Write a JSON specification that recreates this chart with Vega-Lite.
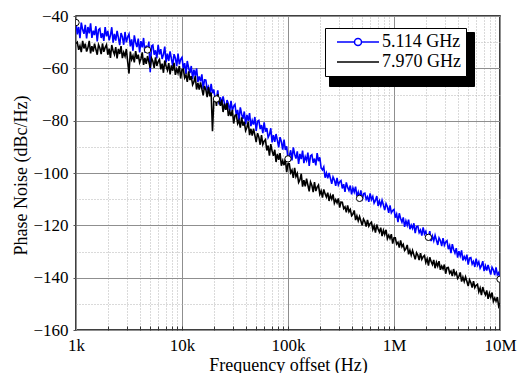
{
  "$schema": "https://vega.github.io/schema/vega-lite/v6.json",
  "width": 424,
  "height": 314,
  "autosize": "none",
  "padding": {"left": 76, "top": 16, "right": 24, "bottom": 43},
  "background": "white",
  "config": {
    "font": "Liberation Serif",
    "view": {"stroke": "black", "strokeWidth": 1.5},
    "axis": {
      "labelFont": "Liberation Serif",
      "titleFont": "Liberation Serif",
      "labelFontSize": 17,
      "titleFontSize": 18,
      "labelColor": "black",
      "titleColor": "black",
      "titleFontWeight": "normal",
      "domain": false,
      "labelFlush": false,
      "labelOverlap": false
    }
  },
  "datasets": {
    "pn": [
      {"f":1000,"b":-42.5,"k":-50.5},{"f":1029,"b":-47.0,"k":-50.0},{"f":1059,"b":-44.2,"k":-52.9},{"f":1090,"b":-48.5,"k":-51.4},
      {"f":1122,"b":-42.5,"k":-53.8},{"f":1155,"b":-45.2,"k":-49.5},{"f":1189,"b":-46.8,"k":-52.4},{"f":1223,"b":-43.4,"k":-50.6},
      {"f":1259,"b":-48.6,"k":-53.6},{"f":1296,"b":-44.2,"k":-52.1},{"f":1334,"b":-46.6,"k":-49.5},{"f":1373,"b":-42.8,"k":-54.3},
      {"f":1413,"b":-48.4,"k":-51.5},{"f":1454,"b":-45.6,"k":-53.6},{"f":1496,"b":-47.3,"k":-50.6},{"f":1540,"b":-43.9,"k":-52.7},
      {"f":1585,"b":-49.7,"k":-54.8},{"f":1631,"b":-45.3,"k":-51.0},{"f":1679,"b":-44.8,"k":-52.2},{"f":1728,"b":-48.4,"k":-54.6},
      {"f":1778,"b":-46.6,"k":-50.5},{"f":1830,"b":-49.5,"k":-53.7},{"f":1884,"b":-44.2,"k":-52.0},{"f":1939,"b":-47.8,"k":-51.0},
      {"f":1995,"b":-45.7,"k":-54.8},{"f":2054,"b":-49.3,"k":-52.5},{"f":2113,"b":-47.4,"k":-56.0},{"f":2175,"b":-44.3,"k":-51.1},
      {"f":2239,"b":-50.2,"k":-53.3},{"f":2304,"b":-46.8,"k":-54.7},{"f":2371,"b":-49.4,"k":-51.9},{"f":2441,"b":-45.7,"k":-56.2},
      {"f":2512,"b":-48.3,"k":-52.6},{"f":2585,"b":-51.1,"k":-54.5},{"f":2661,"b":-46.5,"k":-51.5},{"f":2738,"b":-47.9,"k":-56.1},
      {"f":2818,"b":-51.0,"k":-53.9},{"f":2901,"b":-46.1,"k":-55.4},{"f":2985,"b":-50.1,"k":-52.6},{"f":3073,"b":-48.0,"k":-57.5},
      {"f":3162,"b":-46.9,"k":-62.0},{"f":3255,"b":-51.6,"k":-53.6},{"f":3350,"b":-48.9,"k":-56.6},{"f":3447,"b":-53.3,"k":-55.2},
      {"f":3548,"b":-47.4,"k":-57.7},{"f":3652,"b":-50.1,"k":-53.4},{"f":3758,"b":-51.9,"k":-56.4},{"f":3868,"b":-48.6,"k":-54.8},
      {"f":3981,"b":-53.9,"k":-57.8},{"f":4097,"b":-49.6,"k":-56.4},{"f":4217,"b":-52.0,"k":-53.9},{"f":4340,"b":-48.4,"k":-58.7},
      {"f":4467,"b":-54.0,"k":-56.0},{"f":4597,"b":-51.3,"k":-58.3},{"f":4732,"b":-53.0,"k":-55.3},{"f":4870,"b":-49.8,"k":-57.5},
      {"f":5012,"b":-61.5,"k":-59.8},{"f":5158,"b":-51.5,"k":-56.1},{"f":5309,"b":-51.1,"k":-57.3},{"f":5464,"b":-54.8,"k":-59.8},
      {"f":5623,"b":-53.1,"k":-55.8},{"f":5787,"b":-56.2,"k":-59.1},{"f":5957,"b":-51.0,"k":-57.4},{"f":6130,"b":-54.7,"k":-56.6},
      {"f":6310,"b":-52.7,"k":-60.4},{"f":6494,"b":-56.4,"k":-58.2},{"f":6683,"b":-54.7,"k":-61.7},{"f":6878,"b":-51.7,"k":-57.0},
      {"f":7079,"b":-57.7,"k":-59.2},{"f":7286,"b":-54.4,"k":-60.7},{"f":7499,"b":-57.2,"k":-58.0},{"f":7718,"b":-53.5,"k":-62.3},
      {"f":7943,"b":-56.3,"k":-58.9},{"f":8175,"b":-59.1,"k":-60.9},{"f":8414,"b":-54.6,"k":-57.9},{"f":8659,"b":-56.1,"k":-62.5},
      {"f":8913,"b":-59.2,"k":-60.3},{"f":9172,"b":-54.4,"k":-61.8},{"f":9441,"b":-58.5,"k":-59.1},{"f":9716,"b":-56.5,"k":-63.9},
      {"f":10000,"b":-55.8,"k":-60.5},{"f":10292,"b":-60.1,"k":-60.3},{"f":10593,"b":-58.0,"k":-63.6},{"f":10902,"b":-62.1,"k":-62.5},
      {"f":11220,"b":-57.2,"k":-65.2},{"f":11548,"b":-59.9,"k":-61.2},{"f":11885,"b":-61.8,"k":-64.5},{"f":12232,"b":-59.1,"k":-63.0},
      {"f":12589,"b":-64.0,"k":-66.3},{"f":12957,"b":-60.5,"k":-65.2},{"f":13335,"b":-62.9,"k":-63.0},{"f":13725,"b":-60.0,"k":-68.1},
      {"f":14125,"b":-65.2,"k":-65.6},{"f":14538,"b":-63.1,"k":-68.1},{"f":14962,"b":-65.0,"k":-65.4},{"f":15399,"b":-62.3,"k":-67.9},
      {"f":15849,"b":-67.8,"k":-70.3},{"f":16312,"b":-64.4,"k":-66.8},{"f":16788,"b":-64.5,"k":-68.2},{"f":17278,"b":-68.1,"k":-71.0},
      {"f":17783,"b":-67.0,"k":-67.2},{"f":18302,"b":-70.1,"k":-70.7},{"f":18836,"b":-65.9,"k":-69.2},{"f":19386,"b":-69.5,"k":-84.0},
      {"f":19953,"b":-68.1,"k":-72.6},{"f":20535,"b":-71.7,"k":-70.6},{"f":21135,"b":-71.7,"k":-74.4},{"f":21752,"b":-68.4,"k":-69.9},
      {"f":22387,"b":-73.8,"k":-72.5},{"f":23041,"b":-71.1,"k":-74.3},{"f":23714,"b":-73.7,"k":-72.0},{"f":24406,"b":-70.7,"k":-76.7},
      {"f":25119,"b":-73.3,"k":-73.5},{"f":25852,"b":-75.9,"k":-75.9},{"f":26607,"b":-72.1,"k":-73.3},{"f":27384,"b":-73.6,"k":-78.2},
      {"f":28184,"b":-76.5,"k":-76.4},{"f":29006,"b":-72.4,"k":-78.2},{"f":29854,"b":-76.1,"k":-75.9},{"f":30725,"b":-74.5,"k":-81.1},
      {"f":31623,"b":-73.8,"k":-78.0},{"f":32546,"b":-78.0,"k":-77.8},{"f":33497,"b":-75.9,"k":-81.1},{"f":34474,"b":-79.9,"k":-79.9},
      {"f":35481,"b":-74.9,"k":-82.7},{"f":36517,"b":-77.5,"k":-78.7},{"f":37584,"b":-79.3,"k":-81.9},{"f":38680,"b":-76.5,"k":-80.5},
      {"f":39811,"b":-81.4,"k":-83.8},{"f":40972,"b":-77.8,"k":-82.6},{"f":42170,"b":-80.1,"k":-80.4},{"f":43400,"b":-77.1,"k":-85.5},
      {"f":44668,"b":-82.1,"k":-83.1},{"f":45972,"b":-79.9,"k":-85.7},{"f":47315,"b":-81.5,"k":-83.1},{"f":48695,"b":-78.6,"k":-85.6},
      {"f":50119,"b":-83.9,"k":-88.2},{"f":51581,"b":-80.2,"k":-84.8},{"f":53088,"b":-79.9,"k":-86.3},{"f":54637,"b":-83.2,"k":-89.2},
      {"f":56234,"b":-81.7,"k":-85.5},{"f":57874,"b":-84.8,"k":-89.1},{"f":59566,"b":-80.6,"k":-87.8},{"f":61304,"b":-84.2,"k":-87.2},
      {"f":63096,"b":-82.8,"k":-91.4},{"f":64936,"b":-86.4,"k":-89.5},{"f":66834,"b":-85.3,"k":-93.4},{"f":68784,"b":-82.9,"k":-89.0},
      {"f":70795,"b":-88.3,"k":-91.6},{"f":72859,"b":-85.5,"k":-93.4},{"f":74989,"b":-88.1,"k":-91.1},{"f":77176,"b":-85.1,"k":-95.8},
      {"f":79433,"b":-87.6,"k":-92.7},{"f":81749,"b":-90.2,"k":-95.0},{"f":84140,"b":-86.3,"k":-92.4},{"f":86593,"b":-88.0,"k":-97.2},
      {"f":89125,"b":-91.1,"k":-95.3},{"f":91724,"b":-87.2,"k":-97.0},{"f":94406,"b":-91.2,"k":-94.6},{"f":97159,"b":-89.8,"k":-99.7},
      {"f":100000,"b":-94.6,"k":-96.5},{"f":102920,"b":-93.5,"k":-96.5},{"f":105925,"b":-91.3,"k":-99.9},{"f":109018,"b":-95.2,"k":-98.9},
      {"f":112202,"b":-90.2,"k":-101.9},{"f":115478,"b":-92.8,"k":-98.0},{"f":118850,"b":-94.5,"k":-101.4},{"f":122321,"b":-91.7,"k":-100.2},
      {"f":125893,"b":-96.5,"k":-103.6},{"f":129569,"b":-92.7,"k":-102.6},{"f":133352,"b":-94.7,"k":-100.3},{"f":137246,"b":-91.4,"k":-105.2},
      {"f":141254,"b":-96.2,"k":-102.7},{"f":145378,"b":-93.8,"k":-105.1},{"f":149624,"b":-95.2,"k":-102.2},{"f":153992,"b":-92.2,"k":-104.6},
      {"f":158489,"b":-97.3,"k":-107.0},{"f":163116,"b":-93.4,"k":-103.4},{"f":167880,"b":-93.0,"k":-104.7},{"f":172781,"b":-96.1,"k":-107.3},
      {"f":177828,"b":-94.5,"k":-103.5},{"f":183019,"b":-97.1,"k":-106.9},{"f":188365,"b":-92.4,"k":-105.4},{"f":193863,"b":-95.5,"k":-104.6},
      {"f":199526,"b":-94.0,"k":-108.1},{"f":205350,"b":-98.1,"k":-106.8},{"f":211349,"b":-98.8,"k":-109.4},{"f":217518,"b":-97.7,"k":-106.3},
      {"f":223872,"b":-101.8,"k":-108.0},{"f":230406,"b":-100.0,"k":-109.2},{"f":237137,"b":-102.0,"k":-107.5},{"f":244059,"b":-100.0,"k":-110.7},
      {"f":251189,"b":-102.0,"k":-108.5},{"f":258520,"b":-104.1,"k":-110.0},{"f":266073,"b":-101.5,"k":-108.2},{"f":273838,"b":-102.7,"k":-111.5},
      {"f":281838,"b":-104.9,"k":-110.2},{"f":290063,"b":-101.9,"k":-111.4},{"f":298538,"b":-104.6,"k":-109.7},{"f":307250,"b":-103.4,"k":-113.2},
      {"f":316228,"b":-102.9,"k":-111.1},{"f":325456,"b":-105.9,"k":-111.2},{"f":334965,"b":-104.3,"k":-113.6},{"f":344740,"b":-107.2,"k":-112.9},
      {"f":354813,"b":-103.6,"k":-115.0},{"f":365167,"b":-105.5,"k":-112.4},{"f":375837,"b":-106.7,"k":-114.8},{"f":386803,"b":-104.8,"k":-113.9},
      {"f":398107,"b":-108.2,"k":-116.3},{"f":409723,"b":-105.7,"k":-115.7},{"f":421697,"b":-107.3,"k":-114.3},{"f":433999,"b":-105.2,"k":-118.0},
      {"f":446684,"b":-108.9,"k":-116.4},{"f":459715,"b":-107.3,"k":-118.3},{"f":473151,"b":-109.7,"k":-116.6},{"f":486954,"b":-106.6,"k":-118.3},
      {"f":501187,"b":-110.5,"k":-120.0},{"f":515807,"b":-107.9,"k":-117.6},{"f":530884,"b":-107.7,"k":-118.6},{"f":546370,"b":-110.1,"k":-120.5},
      {"f":562341,"b":-109.1,"k":-117.9},{"f":578744,"b":-111.0,"k":-120.3},{"f":595662,"b":-107.8,"k":-119.3},{"f":613036,"b":-110.2,"k":-118.8},
      {"f":630957,"b":-109.0,"k":-121.6},{"f":649360,"b":-111.5,"k":-120.2},{"f":668344,"b":-110.5,"k":-122.8},{"f":687837,"b":-108.8,"k":-119.7},
      {"f":707946,"b":-112.6,"k":-121.4},{"f":728592,"b":-110.7,"k":-122.6},{"f":749894,"b":-112.5,"k":-120.9},{"f":771764,"b":-110.4,"k":-124.1},
      {"f":794328,"b":-112.2,"k":-121.9},{"f":817493,"b":-114.2,"k":-123.5},{"f":841395,"b":-111.7,"k":-121.7},{"f":865932,"b":-112.9,"k":-125.1},
      {"f":891251,"b":-115.2,"k":-123.8},{"f":917240,"b":-112.4,"k":-125.0},{"f":944061,"b":-115.2,"k":-123.4},{"f":971590,"b":-114.3,"k":-127.0},
      {"f":1000000,"b":-113.9,"k":-124.8},{"f":1029200,"b":-117.1,"k":-124.8},{"f":1059254,"b":-115.7,"k":-127.2},{"f":1090184,"b":-118.8,"k":-126.5},
      {"f":1122018,"b":-115.4,"k":-128.5},{"f":1154782,"b":-117.4,"k":-125.8},{"f":1188502,"b":-118.8,"k":-128.2},{"f":1223207,"b":-117.0,"k":-127.3},
      {"f":1258925,"b":-120.6,"k":-129.6},{"f":1295687,"b":-118.3,"k":-128.9},{"f":1333521,"b":-120.0,"k":-127.5},{"f":1372461,"b":-117.8,"k":-131.1},
      {"f":1412538,"b":-121.5,"k":-129.5},{"f":1453784,"b":-119.9,"k":-131.4},{"f":1496236,"b":-121.2,"k":-129.6},{"f":1539927,"b":-119.2,"k":-131.3},
      {"f":1584893,"b":-123.0,"k":-133.0},{"f":1631173,"b":-120.5,"k":-130.5},{"f":1678804,"b":-120.3,"k":-131.4},{"f":1727826,"b":-122.8,"k":-133.3},
      {"f":1778279,"b":-121.8,"k":-130.6},{"f":1830206,"b":-123.9,"k":-133.0},{"f":1883649,"b":-120.8,"k":-132.0},{"f":1938653,"b":-123.3,"k":-131.5},
      {"f":1995262,"b":-122.3,"k":-134.2},{"f":2053525,"b":-124.8,"k":-132.8},{"f":2113489,"b":-124.6,"k":-135.4},{"f":2175204,"b":-122.2,"k":-132.2},
      {"f":2238721,"b":-126.0,"k":-133.8},{"f":2304093,"b":-124.1,"k":-135.0},{"f":2371374,"b":-125.9,"k":-133.2},{"f":2440619,"b":-123.8,"k":-136.4},
      {"f":2511886,"b":-125.6,"k":-134.1},{"f":2585235,"b":-127.5,"k":-135.6},{"f":2660725,"b":-124.8,"k":-133.7},{"f":2738420,"b":-125.8,"k":-137.0},
      {"f":2818383,"b":-127.9,"k":-135.6},{"f":2900681,"b":-124.9,"k":-136.7},{"f":2985383,"b":-127.6,"k":-135.0},{"f":3072557,"b":-126.4,"k":-138.5},
      {"f":3162278,"b":-125.9,"k":-136.2},{"f":3254618,"b":-129.1,"k":-136.1},{"f":3349654,"b":-127.7,"k":-138.3},{"f":3447467,"b":-130.6,"k":-137.5},
      {"f":3548134,"b":-127.2,"k":-139.4},{"f":3651741,"b":-129.2,"k":-136.7},{"f":3758374,"b":-130.6,"k":-138.9},{"f":3868120,"b":-128.7,"k":-138.0},
      {"f":3981072,"b":-132.3,"k":-140.3},{"f":4097324,"b":-129.9,"k":-139.5},{"f":4216965,"b":-131.7,"k":-138.0},{"f":4340103,"b":-129.6,"k":-141.5},
      {"f":4466836,"b":-133.4,"k":-139.8},{"f":4597270,"b":-131.9,"k":-141.5},{"f":4731513,"b":-133.1,"k":-139.7},{"f":4869675,"b":-131.2,"k":-141.4},
      {"f":5011872,"b":-135.0,"k":-143.2},{"f":5158222,"b":-132.5,"k":-140.8},{"f":5308844,"b":-132.3,"k":-141.9},{"f":5463865,"b":-134.8,"k":-143.8},
      {"f":5623413,"b":-133.8,"k":-141.3},{"f":5787620,"b":-135.9,"k":-143.8},{"f":5956621,"b":-132.7,"k":-142.9},{"f":6130558,"b":-135.2,"k":-142.5},
      {"f":6309573,"b":-134.0,"k":-145.4},{"f":6493816,"b":-136.4,"k":-144.0},{"f":6683439,"b":-135.4,"k":-146.7},{"f":6878599,"b":-133.7,"k":-143.6},
      {"f":7079458,"b":-137.5,"k":-145.4},{"f":7286182,"b":-135.5,"k":-146.6},{"f":7498942,"b":-137.3,"k":-144.9},{"f":7717915,"b":-135.1,"k":-148.1},
      {"f":7943282,"b":-137.0,"k":-145.9},{"f":8175230,"b":-138.8,"k":-147.5},{"f":8413951,"b":-136.0,"k":-145.7},{"f":8659643,"b":-137.0,"k":-149.1},
      {"f":8912509,"b":-139.0,"k":-147.8},{"f":9172759,"b":-136.1,"k":-149.0},{"f":9440609,"b":-138.9,"k":-147.4},{"f":9716280,"b":-138.1,"k":-150.9},
      {"f":10000000,"b":-140.6,"k":-149.7}
    ],
    "mk": [
      {"f":1000,"v":-42.5},{"f":4732,"v":-53},{"f":21135,"v":-71.7},{"f":100000,"v":-94.6},
      {"f":473151,"v":-109.7},{"f":2113489,"v":-124.6},{"f":10000000,"v":-140.6}
    ]
  },
  "resolve": {"axis": {"x": "independent", "y": "independent"}},
  "layer": [
    {
      "data": {"name": "pn"},
      "mark": {"type": "line", "strokeWidth": 1.6, "clip": true},
      "encoding": {
        "x": {
          "field": "f", "type": "quantitative",
          "scale": {"type": "log", "domain": [1000, 10000000], "nice": false},
          "axis": {
            "orient": "bottom",
            "values": [1000, 10000, 100000, 1000000, 10000000],
            "labelExpr": "datum.value >= 1000000 ? (datum.value / 1000000) + 'M' : (datum.value / 1000) + 'k'",
            "title": "Frequency offset (Hz)",
            "titleY": 40,
            "titleBaseline": "alphabetic",
            "grid": true, "gridColor": "#8f8f8f", "gridWidth": 1,
            "ticks": false,
            "labelPadding": 20,
            "labelBaseline": "alphabetic"
          }
        },
        "y": {
          "field": "b", "type": "quantitative",
          "scale": {"domain": [-160, -40], "nice": false, "zero": false},
          "axis": {
            "orient": "left",
            "values": [-160, -140, -120, -100, -80, -60, -40],
            "title": "Phase Noise (dBc/Hz)",
            "titleX": -49.5,
            "titleY": 159,
            "titleBaseline": "alphabetic",
            "titleAngle": -90,
            "titleAlign": "center",
            "grid": true, "gridColor": "#8f8f8f", "gridWidth": 1,
            "ticks": true, "tickSize": 3, "tickColor": "#555555",
            "labelPadding": 5
          }
        },
        "color": {
          "datum": "5.114 GHz",
          "scale": {"domain": ["5.114 GHz", "7.970 GHz"], "range": ["#0000ff", "#000000"]},
          "legend": {
            "orient": "none", "legendX": 249, "legendY": 12, "title": null,
            "zindex": 2,
            "fillColor": "white", "strokeColor": "black",
            "padding": 5, "rowPadding": 2,
            "labelFont": "Liberation Serif", "labelFontSize": 18, "labelColor": "black",
            "symbolSize": 100, "symbolOffset": 19, "labelOffset": 15, "symbolStrokeWidth": 1.5,
            "symbolType": "M-4.2,0H4.2",
            "encode": {
              "symbols": {
                "update": {
                  "shape": {"signal": "datum.value === '5.114 GHz' ? 'M-4.2,0H-0.7M0.7,0H4.2M-0.7,0A0.7,0.7 0 1,1 0.7,0A0.7,0.7 0 1,1 -0.7,0' : 'M-4.2,0H4.2'"},
                  "fill": {"value": "white"}
                }
              }
            }
          }
        },
        "strokeDash": {
          "datum": "s1",
          "scale": {"domain": ["s1", "s2"], "range": [[1, 0], [1, 0]]},
          "legend": {
            "orient": "none", "legendX": 253, "legendY": 16, "title": null,
            "zindex": 1,
            "fillColor": "black", "strokeColor": "black",
            "padding": 5, "rowPadding": 2,
            "labelFontSize": 18,
            "labelExpr": "''",
            "symbolSize": 100, "symbolOffset": 19, "labelOffset": 15, "symbolStrokeWidth": 1,
            "symbolStrokeColor": "black", "symbolFillColor": "black",
            "symbolType": "M-4.2,-1.8H21V1.8H-4.2Z"
          }
        }
      }
    },
    {
      "data": {"name": "pn"},
      "mark": {"type": "line", "strokeWidth": 1.6, "clip": true},
      "encoding": {
        "x": {
          "field": "f", "type": "quantitative",
          "scale": {"type": "log", "domain": [1000, 10000000], "nice": false},
          "axis": {
            "orient": "top",
            "values": [2000,3000,4000,5000,6000,7000,8000,9000,20000,30000,40000,50000,60000,70000,80000,90000,200000,300000,400000,500000,600000,700000,800000,900000,2000000,3000000,4000000,5000000,6000000,7000000,8000000,9000000],
            "labels": false, "ticks": false, "title": null,
            "grid": true, "gridColor": "#b5b5b5", "gridDash": [1, 2], "gridWidth": 1
          }
        },
        "y": {
          "field": "k", "type": "quantitative",
          "scale": {"domain": [-160, -40], "nice": false, "zero": false},
          "axis": {
            "orient": "right",
            "values": [-150, -130, -110, -90, -70, -50],
            "labels": false, "ticks": false, "title": null,
            "grid": true, "gridColor": "#b5b5b5", "gridDash": [1, 2], "gridWidth": 1
          }
        },
        "color": {"datum": "7.970 GHz"},
        "strokeDash": {"datum": "s2"}
      }
    },
    {
      "data": {"name": "mk"},
      "mark": {"type": "point", "shape": "circle", "filled": true, "fill": "white", "stroke": "black", "strokeWidth": 1, "size": 40, "opacity": 1, "clip": true},
      "encoding": {
        "x": {
          "field": "f", "type": "quantitative",
          "axis": {
            "orient": "bottom",
            "values": [2000,3000,4000,5000,6000,7000,8000,9000,10000,20000,30000,40000,50000,60000,70000,80000,90000,100000,200000,300000,400000,500000,600000,700000,800000,900000,1000000,2000000,3000000,4000000,5000000,6000000,7000000,8000000,9000000],
            "labels": false, "grid": false, "title": null, "domain": false,
            "ticks": true, "tickSize": -4, "tickColor": "#333333", "tickWidth": 1
          }
        },
        "y": {"field": "v", "type": "quantitative", "axis": null}
      }
    }
  ]
}
